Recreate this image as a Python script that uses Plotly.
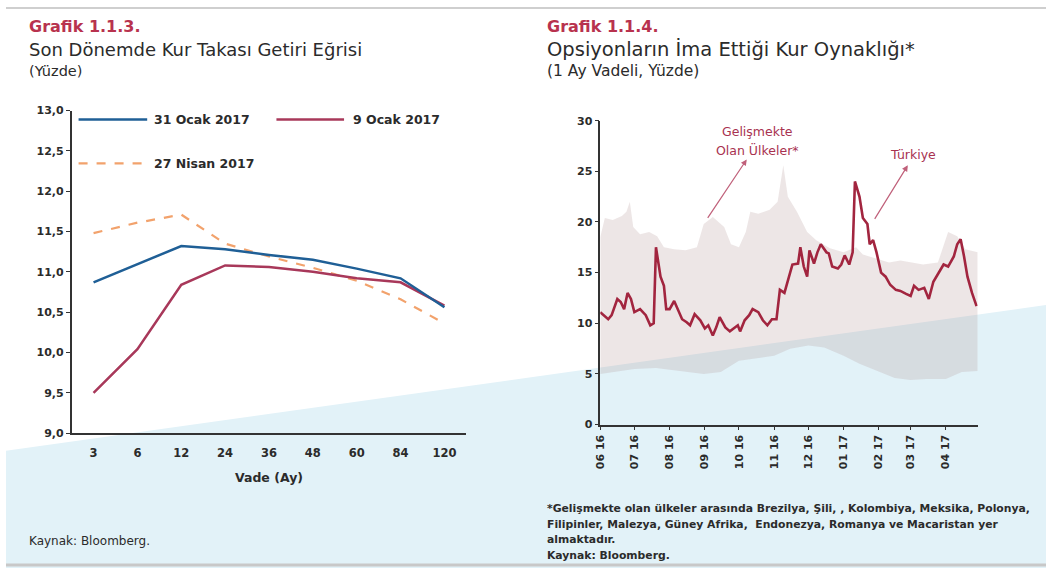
import plotly.graph_objects as go

W, H = 1046, 575
def px(x): return x / W
def py(y): return 1 - y / H

FONT = "DejaVu Sans"
CRIMSON = "#b8324e"
DARK = "#2b2b2b"

# ---------------- Left chart data (Grafik 1.1.3) ----------------
maturities = ["3", "6", "12", "24", "36", "48", "60", "84", "120"]
ocak31 = [10.87, 11.09, 11.32, 11.28, 11.21, 11.15, 11.04, 10.92, 10.56]
ocak9 = [9.50, 10.04, 10.84, 11.08, 11.06, 11.00, 10.92, 10.87, 10.58]
nisan27 = [11.48, 11.61, 11.71, 11.35, 11.19, 11.05, 10.89, 10.66, 10.36]
left_ticks = [9.0, 9.5, 10.0, 10.5, 11.0, 11.5, 12.0, 12.5, 13.0]

# ---------------- Right chart data (Grafik 1.1.4) ----------------
turkey_dates = [
    "2016-06-01", "2016-06-04", "2016-06-08", "2016-06-11", "2016-06-16", "2016-06-19",
    "2016-06-22", "2016-06-25", "2016-06-28", "2016-07-01", "2016-07-06", "2016-07-11",
    "2016-07-15", "2016-07-18", "2016-07-20", "2016-07-24", "2016-07-27", "2016-07-29",
    "2016-08-01", "2016-08-05", "2016-08-09", "2016-08-12", "2016-08-16", "2016-08-19",
    "2016-08-23", "2016-08-28", "2016-09-01", "2016-09-04", "2016-09-08", "2016-09-11",
    "2016-09-14", "2016-09-19", "2016-09-23", "2016-09-27", "2016-09-30", "2016-10-02",
    "2016-10-06", "2016-10-10", "2016-10-13", "2016-10-18", "2016-10-22", "2016-10-26",
    "2016-10-30", "2016-11-03", "2016-11-06", "2016-11-10", "2016-11-13", "2016-11-17",
    "2016-11-22", "2016-11-24", "2016-11-27", "2016-11-30", "2016-12-02", "2016-12-06",
    "2016-12-09", "2016-12-12", "2016-12-17", "2016-12-19", "2016-12-22", "2016-12-27",
    "2016-12-30", "2017-01-02", "2017-01-06", "2017-01-09", "2017-01-11", "2017-01-15",
    "2017-01-18", "2017-01-22", "2017-01-24", "2017-01-27", "2017-01-30", "2017-02-03",
    "2017-02-07", "2017-02-11", "2017-02-16", "2017-02-20", "2017-02-25", "2017-03-01",
    "2017-03-04", "2017-03-08", "2017-03-13", "2017-03-17", "2017-03-21", "2017-03-26",
    "2017-03-30", "2017-04-03", "2017-04-08", "2017-04-11", "2017-04-14", "2017-04-17",
    "2017-04-20", "2017-04-24", "2017-04-28",
]
turkey_vol = [
    11.1, 10.8, 10.4, 10.8, 12.4, 12.1,
    11.4, 13.0, 12.4, 11.1, 11.4, 10.8,
    9.8, 10.0, 17.5, 14.6, 13.7, 11.4,
    11.4, 12.2, 11.1, 10.4, 10.1, 9.8,
    10.9, 10.3, 9.5, 9.8, 8.8, 9.6,
    10.6, 9.6, 9.2, 9.5, 9.8, 9.2,
    10.3, 10.8, 11.4, 11.1, 10.3, 9.8,
    10.4, 10.4, 13.3, 13.0, 14.1, 15.8,
    15.9, 17.5, 15.6, 14.6, 17.2, 15.9,
    17.0, 17.8, 17.0, 16.9, 15.6, 15.4,
    15.8, 16.7, 15.8, 17.0, 24.0, 22.5,
    20.4, 19.8, 17.8, 18.2, 17.0, 15.0,
    14.6, 13.8, 13.3, 13.2, 12.9, 12.7,
    13.7, 13.3, 13.5, 12.4, 14.1, 15.0,
    15.8, 15.6, 16.6, 17.8, 18.3, 16.6,
    14.6, 13.0, 11.7,
]

em_upper_dates = [
    "2016-06-01", "2016-06-05", "2016-06-12", "2016-06-20", "2016-06-24", "2016-06-27",
    "2016-06-30", "2016-07-06", "2016-07-14", "2016-07-21", "2016-07-27", "2016-08-05",
    "2016-08-15", "2016-08-25", "2016-08-31", "2016-09-08", "2016-09-18", "2016-09-24",
    "2016-10-01", "2016-10-07", "2016-10-11", "2016-10-18", "2016-10-28", "2016-11-04",
    "2016-11-09", "2016-11-13", "2016-11-21", "2016-11-30", "2016-12-08", "2016-12-20",
    "2017-01-01", "2017-01-12", "2017-01-18", "2017-02-01", "2017-02-10", "2017-02-20",
    "2017-03-01", "2017-03-12", "2017-03-25", "2017-04-03", "2017-04-11", "2017-04-18",
    "2017-04-29",
]
em_upper = [
    18.5, 20.4, 20.2, 20.6, 21.0, 22.0,
    19.5, 18.8, 19.0, 18.6, 17.5, 17.3,
    17.2, 17.5, 19.8, 20.5, 19.5, 17.8,
    17.5, 19.0, 21.0, 20.8, 21.2, 22.0,
    25.6, 22.5, 21.0, 19.0, 18.2, 17.4,
    17.0, 17.5, 16.8, 16.3, 16.0, 16.2,
    16.0, 15.8, 16.0, 19.0, 18.6, 17.3,
    17.0,
]
em_lower_dates = [
    "2016-06-01", "2016-06-15", "2016-07-01", "2016-07-20", "2016-08-10", "2016-08-31",
    "2016-09-15", "2016-10-01", "2016-10-20", "2016-11-01", "2016-11-15", "2016-12-01",
    "2016-12-15", "2017-01-01", "2017-01-15", "2017-02-01", "2017-02-15", "2017-03-01",
    "2017-03-15", "2017-04-01", "2017-04-15", "2017-04-29",
]
em_lower = [
    5.0, 5.2, 5.5, 5.6, 5.3, 5.0,
    5.2, 6.3, 6.6, 6.8, 7.5, 7.8,
    7.6, 6.8, 6.0, 5.2, 4.6, 4.4,
    4.5, 4.5, 5.2, 5.3,
]
month_ticks = ["2016-06-01", "2016-07-01", "2016-08-01", "2016-09-01", "2016-10-01",
               "2016-11-01", "2016-12-01", "2017-01-01", "2017-02-01", "2017-03-01",
               "2017-04-01"]
month_labels = ["06 16", "07 16", "08 16", "09 16", "10 16", "11 16", "12 16",
                "01 17", "02 17", "03 17", "04 17"]
right_ticks = [0, 5, 10, 15, 20, 25, 30]

fig = go.Figure()

# Left chart traces
fig.add_trace(go.Scatter(x=maturities, y=nisan27, mode="lines", xaxis="x", yaxis="y",
                         line=dict(color="#f2a26c", width=2.2, dash="dash"), name="27 Nisan 2017"))
fig.add_trace(go.Scatter(x=maturities, y=ocak9, mode="lines", xaxis="x", yaxis="y",
                         line=dict(color="#a8385a", width=2.5), name="9 Ocak 2017"))
fig.add_trace(go.Scatter(x=maturities, y=ocak31, mode="lines", xaxis="x", yaxis="y",
                         line=dict(color="#1f5f96", width=2.5), name="31 Ocak 2017"))

# Right chart traces
fig.add_trace(go.Scatter(x=em_lower_dates, y=em_lower, mode="lines", xaxis="x3", yaxis="y3",
                         line=dict(width=0, color="rgba(0,0,0,0)"), hoverinfo="skip"))
fig.add_trace(go.Scatter(x=em_upper_dates, y=em_upper, mode="lines", xaxis="x3", yaxis="y3",
                         line=dict(width=0, color="rgba(0,0,0,0)"), fill="tonexty",
                         fillcolor="rgba(175,140,140,0.22)", name="Gelişmekte Olan Ülkeler"))
fig.add_trace(go.Scatter(x=turkey_dates, y=turkey_vol, mode="lines", xaxis="x3", yaxis="y3",
                         line=dict(color="#a2253f", width=2.6), name="Türkiye"))

tickfont = dict(family=FONT, size=11, color=DARK, weight="bold")
axis_common = dict(showline=True, linecolor="#333333", linewidth=1.5, showgrid=False,
                   zeroline=False, mirror=False)

fig.update_layout(
    width=W, height=H,
    margin=dict(l=0, r=0, t=0, b=0),
    paper_bgcolor="white", plot_bgcolor="rgba(0,0,0,0)",
    showlegend=False,
    separators=", ",
    font=dict(family=FONT, color=DARK),
    xaxis=dict(domain=[px(66), px(463)], anchor="y", type="category",
               categoryorder="array", categoryarray=maturities, range=[-0.5, 8.5],
               ticks="", tickfont=dict(family=FONT, size=11.5, color=DARK, weight="bold"),
               ticklabelstandoff=8, **axis_common),
    yaxis=dict(domain=[py(437), py(107)], anchor="x", range=[9, 13], tickvals=left_ticks,
               tickformat=".1f", ticks="outside", ticklen=4, tickcolor="#333333",
               tickfont=tickfont, **axis_common),
    yaxis2=dict(overlaying="y", anchor="x", side="right", range=[9, 13], tickvals=left_ticks,
                tickformat=".1f", ticks="outside", ticklen=4, tickcolor="#333333",
                tickfont=tickfont, **axis_common),
    xaxis3=dict(domain=[px(597.7), px(977.3)], anchor="y3", type="date",
                range=["2016-06-01", "2017-04-29"], tickvals=month_ticks, ticktext=month_labels,
                tickangle=-90, ticks="outside", ticklen=4, tickcolor="#333333",
                tickfont=tickfont, **axis_common),
    yaxis3=dict(domain=[py(428.3), py(117.3)], anchor="x3", range=[0, 30], tickvals=right_ticks,
                ticks="outside", ticklen=4, tickcolor="#333333", tickfont=tickfont,
                **axis_common),
    yaxis4=dict(overlaying="y3", anchor="x3", side="right", range=[0, 30], tickvals=right_ticks,
                ticks="outside", ticklen=4, tickcolor="#333333", tickfont=tickfont,
                **axis_common),
)

shapes = [
    # background watermark swoosh
    dict(type="path", xref="paper", yref="paper", layer="below",
         path=f"M 0,{py(455)} L 1,{py(306)} L 1,0 L 0,0 Z",
         fillcolor="#e2f2f8", line=dict(width=0)),
    # page frame lines
    dict(type="line", xref="paper", yref="paper", x0=0, x1=1, y0=py(2), y1=py(2),
         line=dict(color="#cfcfcf", width=2), layer="below"),
    dict(type="line", xref="paper", yref="paper", x0=0, x1=1, y0=py(572), y1=py(572),
         line=dict(color="#c8c8c8", width=3), layer="below"),
    # legend samples (left chart)
    dict(type="line", xref="paper", yref="paper", x0=px(73), x1=px(142), y0=py(116), y1=py(116),
         line=dict(color="#1f5f96", width=2.5)),
    dict(type="line", xref="paper", yref="paper", x0=px(272), x1=px(340), y0=py(116), y1=py(116),
         line=dict(color="#a8385a", width=2.5)),
    dict(type="line", xref="paper", yref="paper", x0=px(73), x1=px(143), y0=py(161), y1=py(161),
         line=dict(color="#f2a26c", width=2.2, dash="dash")),
]
fig.update_layout(shapes=shapes)

def txt(x, y, s, size, color=DARK, bold=False, xanchor="left", align="left"):
    return dict(xref="paper", yref="paper", x=px(x), y=py(y), text=s, showarrow=False,
                xanchor=xanchor, yanchor="middle", align=align,
                font=dict(family=FONT, size=size, color=color, weight="bold" if bold else "normal"))

annotations = [
    txt(21, 21, "Grafik 1.1.3.", 16, CRIMSON, True),
    txt(21, 45, "Son Dönemde Kur Takası Getiri Eğrisi", 18),
    txt(21, 66, "(Yüzde)", 14.5),
    txt(542, 21, "Grafik 1.1.4.", 16, CRIMSON, True),
    txt(542, 45, "Opsiyonların İma Ettiği Kur Oynaklığı*", 19.5),
    txt(542, 66, "(1 Ay Vadeli, Yüzde)", 15.5),
    # legend labels
    txt(147, 116, "31 Ocak 2017", 12.5, DARK, True),
    txt(347, 116, "9 Ocak 2017", 12.5, DARK, True),
    txt(147, 161, "27 Nisan 2017", 12.5, DARK, True),
    # axis title
    txt(265, 482, "Vade (Ay)", 12.5, DARK, True, xanchor="center"),
    txt(21, 547, "Kaynak: Bloomberg.", 12),
    # right chart labels
    txt(756, 128, "Gelişmekte", 12.5, "#a83250", xanchor="center"),
    txt(756, 147, "Olan Ülkeler*", 12.5, "#a83250", xanchor="center"),
    txt(912, 152, "Türkiye", 12.5, "#a83250", xanchor="center"),
    # footnotes
    txt(542, 514, "*Gelişmekte olan ülkeler arasında Brezilya, Şili, , Kolombiya, Meksika, Polonya,", 10.8, DARK, True),
    txt(542, 530, "Filipinler, Malezya, Güney Afrika,  Endonezya, Romanya ve Macaristan yer", 10.8, DARK, True),
    txt(542, 546, "almaktadır.", 10.8, DARK, True),
    txt(542, 562, "Kaynak: Bloomberg.", 10.8, DARK, True),
    # arrows
    dict(xref="paper", yref="paper", x=px(745), y=py(157), ax=-40, ay=60, text="",
         showarrow=True, arrowhead=2, arrowsize=1, arrowwidth=1.2, arrowcolor="#c0607a"),
    dict(xref="paper", yref="paper", x=px(907), y=py(163), ax=-34, ay=55, text="",
         showarrow=True, arrowhead=2, arrowsize=1, arrowwidth=1.2, arrowcolor="#c0607a"),
]
fig.update_layout(annotations=annotations)

fig.write_html("out.html")
